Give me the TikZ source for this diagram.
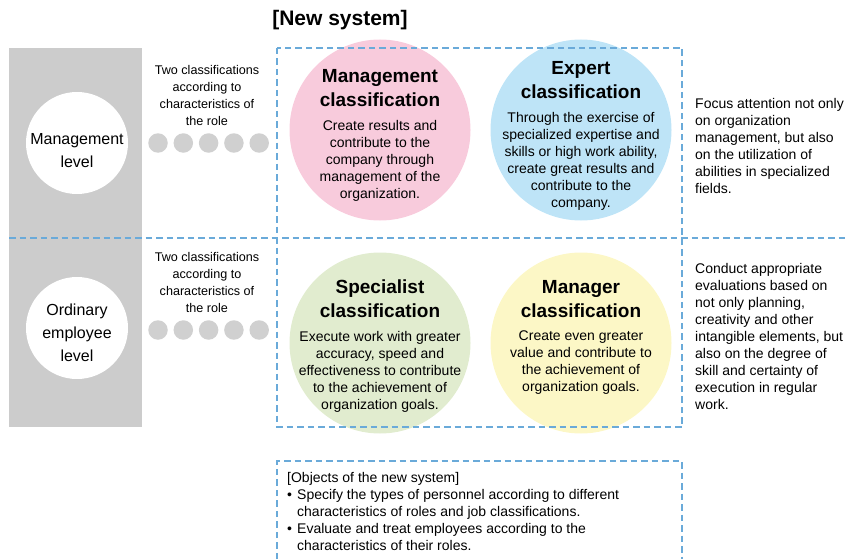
\documentclass[tikz,border=0pt]{standalone}
\usepackage{fontspec}
\setmainfont{Liberation Sans}
\usetikzlibrary{positioning}

\definecolor{levelgray}{HTML}{CCCCCC}
\definecolor{dotgray}{HTML}{D0D0D0}
\definecolor{dashblue}{HTML}{6AAAD9}
\definecolor{mgmtpink}{HTML}{F8CBDC}
\definecolor{expblue}{HTML}{BEE4F7}
\definecolor{specgreen}{HTML}{E1ECCF}
\definecolor{mgryellow}{HTML}{FCF7C6}

\begin{document}
\begin{tikzpicture}[
            x = 1pt, y = -1pt, % work on a pixel grid, y going down
            inner sep = 0pt,
            every node/.style = {align = center}
        ]

        \tikzstyle{dashline}=[
            draw = dashblue,
            line width = 1.1pt,
            dash pattern = on 6.5pt off 4pt
        ]
        \tikzstyle{level}=[circle, fill = white, minimum size = 102pt]
        \tikzstyle{leveltext}=[font = \fontsize{16}{23}\selectfont]
        \tikzstyle{dot}=[circle, fill = dotgray, minimum size = 19.5pt]
        \tikzstyle{small}=[font = \fontsize{12.6}{17}\selectfont]
        \tikzstyle{cls}=[circle, minimum size = 181pt]
        \tikzstyle{head}=[font = \bfseries\fontsize{19}{24}\selectfont]
        \tikzstyle{body}=[font = \fontsize{14}{17}\selectfont]
        \tikzstyle{note}=[align = left, anchor = north west,
            font = \fontsize{14}{17}\selectfont]

        \useasboundingbox (0,0) rectangle (845,559);

        \node[font = \bfseries\fontsize{21}{25}\selectfont] (newsys) at (340,20) {[New system]};

        % grey band with the two levels
        \fill[levelgray] (9,48) rectangle (142,427);
        \node[level] (mlevel) at (77,143) {};
        \node[leveltext] (mlevel-t) at ([yshift=-8pt]mlevel.center) {Management\\level};
        \node[level] (olevel) at (77,328) {};
        \node[leveltext] (olevel-t) at ([yshift=-5pt]olevel.center) {Ordinary\\employee\\level};

        \node[small, anchor = north] (mtwo) at (207,65) {Two classifications\\according to\\characteristics of\\the role};
        \node[small, anchor = north] (otwo) at (207,252) {Two classifications\\according to\\characteristics of\\the role};

        \foreach \i in {0,...,4} {
            \node[dot] (mdot\i) at (158+25.3*\i,143) {};
            \node[dot] (odot\i) at (158+25.3*\i,330) {};
        }

        % the four classifications
        \node[cls, fill = mgmtpink] (mgmt) at (380,130) {};
        \node[cls, fill = expblue] (exp) at (581,130) {};
        \node[cls, fill = specgreen] (spec) at (380,343) {};
        \node[cls, fill = mgryellow] (mgr) at (581,343) {};

        \node[head, anchor = north] (mgmt-h) at (380,69) {Management\\classification};
        \node[body, below = 13pt of mgmt-h] (mgmt-b) {Create results and\\contribute to the\\company through\\management of the\\organization.};

        \node[head, anchor = north] (exp-h) at (581,61) {Expert\\classification};
        \node[body, below = 13pt of exp-h] (exp-b) {Through the exercise of\\specialized expertise and\\skills or high work ability,\\create great results and\\contribute to the\\company.};

        \node[head, anchor = north] (spec-h) at (380,280) {Specialist\\classification};
        \node[body, below = 13pt of spec-h] (spec-b) {Execute work with greater\\accuracy, speed and\\effectiveness to contribute\\to the achievement of\\organization goals.};

        \node[head, anchor = north] (mgr-h) at (581,280) {Manager\\classification};
        \node[body, below = 13pt of mgr-h] (mgr-b) {Create even greater\\value and contribute to\\the achievement of\\organization goals.};

        % dashed frames
        \draw[dashline] (277,48) rectangle (682,427);
        \draw[dashline] (9,238) -- (845,238);
        \draw[dashline] (277,559) -- (277,461) -- (682,461) -- (682,559);

        \node[note] (mnote) at (695,98) {Focus attention not only\\on organization\\management, but also\\on the utilization of\\abilities in specialized\\fields.};
        \node[note] (onote) at (695,263) {Conduct appropriate\\evaluations based on\\not only planning,\\creativity and other\\intangible elements, but\\also on the degree of\\skill and certainty of\\execution in regular\\work.};

        \node[note] (aims) at (287,472) {[Objects of the new system]\\
            \makebox[10pt][l]{\textbullet}Specify the types of personnel according to different\\
            \hspace*{10pt}characteristics of roles and job classifications.\\
            \makebox[10pt][l]{\textbullet}Evaluate and treat employees according to the\\
            \hspace*{10pt}characteristics of their roles.};
    \end{tikzpicture}
\end{document}
